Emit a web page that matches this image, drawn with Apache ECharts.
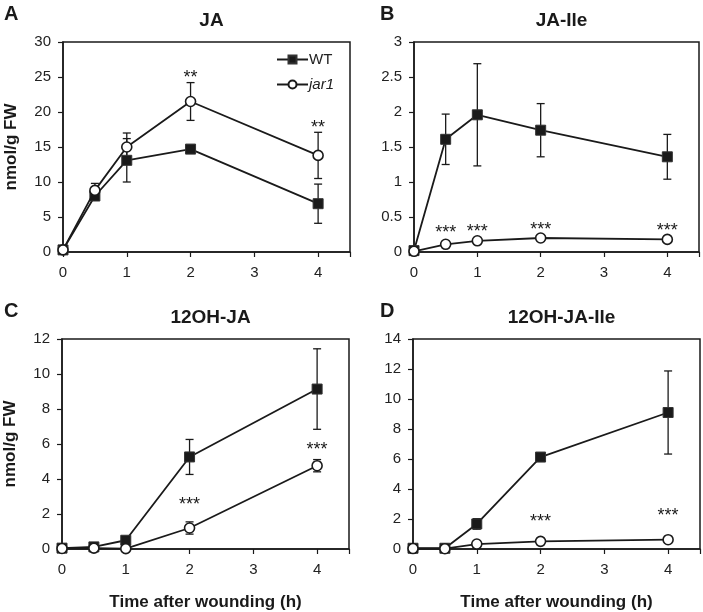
<!DOCTYPE html>
<html>
<head>
<meta charset="utf-8">
<script src="https://cdn.jsdelivr.net/npm/echarts@6/dist/echarts.min.js"></script>
<style>
  html, body { margin: 0; padding: 0; background: #fff; }
  #chart { width: 703px; height: 612px; }
</style>
</head>
<body>
<div id="chart"></div>
<script>
// sampling times (h after wounding)
const times = [0, 0.5, 1, 2, 4]
const xTicks = [0, 1, 2, 3, 4]

// A: JA
const jaWT = [0.3, 8.0, 13.1, 14.7, 6.9]
const jaWTErr = [0.2, 0.5, 3.1, 0.4, 2.8]
const jaJar1 = [0.3, 8.8, 15.0, 21.5, 13.8]
const jaJar1Err = [0.2, 1.0, 2.0, 2.7, 3.3]
const jaStars = [[2, 25.3, '**'], [4, 18.2, '**']]

// B: JA-Ile
const jaIleWT = [0.02, 1.61, 1.96, 1.74, 1.36]
const jaIleWTErr = [0.01, 0.36, 0.73, 0.38, 0.32]
const jaIleJar1 = [0.01, 0.11, 0.16, 0.20, 0.18]
const jaIleJar1Err = [0.005, 0.01, 0.01, 0.02, 0.02]
const jaIleStars = [[0.5, 0.31, '***'], [1, 0.33, '***'], [2, 0.35, '***'], [4, 0.34, '***']]

// C: 12OH-JA
const ohWT = [0.05, 0.12, 0.5, 5.26, 9.14]
const ohWTErr = [0.02, 0.1, 0.1, 1.0, 2.3]
const ohJar1 = [0.03, 0.05, 0.02, 1.2, 4.76]
const ohJar1Err = [0.02, 0.02, 0.02, 0.35, 0.35]
const ohStars = [[2, 2.7, '***'], [4, 5.8, '***']]

// D: 12OH-JA-Ile
const ohIleWT = [0.05, 0.05, 1.67, 6.13, 9.1]
const ohIleWTErr = [0.02, 0.02, 0.35, 0.2, 2.77]
const ohIleJar1 = [0.03, 0.02, 0.33, 0.51, 0.62]
const ohIleJar1Err = [0.02, 0.02, 0.05, 0.05, 0.05]
const ohIleStars = [[2, 2.0, '***'], [4, 2.4, '***']]

const panels = [
  { letter: 'A', title: 'JA', wt: jaWT, wtErr: jaWTErr, jar: jaJar1, jarErr: jaJar1Err, stars: jaStars, max: 30, interval: 5, yName: true, xName: false },
  { letter: 'B', title: 'JA-Ile', wt: jaIleWT, wtErr: jaIleWTErr, jar: jaIleJar1, jarErr: jaIleJar1Err, stars: jaIleStars, max: 3, interval: 0.5, yName: false, xName: false },
  { letter: 'C', title: '12OH-JA', wt: ohWT, wtErr: ohWTErr, jar: ohJar1, jarErr: ohJar1Err, stars: ohStars, max: 12, interval: 2, yName: true, xName: true },
  { letter: 'D', title: '12OH-JA-Ile', wt: ohIleWT, wtErr: ohIleWTErr, jar: ohIleJar1, jarErr: ohIleJar1Err, stars: ohIleStars, max: 14, interval: 2, yName: false, xName: true },
]

const grids = [
  { left: 63, top: 42, width: 287, height: 210 },
  { left: 414, top: 42, width: 285, height: 210 },
  { left: 62, top: 339, width: 287, height: 210 },
  { left: 413, top: 339, width: 287, height: 210 },
]

const ink = '#1a1a1a'
const font = 'Liberation Sans, Arial, sans-serif'

function errorBars(vals, errs) {
  return times.map((t, i) => [t, vals[i], errs[i]])
}

function renderErr(params, api) {
  const x = api.value(0)
  const m = api.value(1)
  const e = api.value(2)
  const hi = api.coord([x, m + e])
  const lo = api.coord([x, m - e])
  const w = 4
  const style = { stroke: ink, lineWidth: 1.3 }
  return {
    type: 'group',
    children: [
      { type: 'line', shape: { x1: hi[0], y1: hi[1], x2: lo[0], y2: lo[1] }, style },
      { type: 'line', shape: { x1: hi[0] - w, y1: hi[1], x2: hi[0] + w, y2: hi[1] }, style },
      { type: 'line', shape: { x1: lo[0] - w, y1: lo[1], x2: lo[0] + w, y2: lo[1] }, style },
    ],
  }
}

function renderStar(labels) {
  return (params, api) => {
    const p = api.coord([api.value(0), api.value(1)])
    // asterisk glyphs sit high in the em box, nudge down a bit
    return {
      type: 'text',
      x: p[0],
      y: p[1] + 3,
      style: {
        text: labels[params.dataIndex],
        fill: ink,
        font: '18px ' + font,
        align: 'center',
        verticalAlign: 'middle',
      },
    }
  }
}

const myChart = echarts.init(document.getElementById('chart'))

const titles = []
const xAxes = []
const yAxes = []
const series = []

panels.forEach((p, k) => {
  const g = grids[k]
  titles.push({
    text: p.title,
    left: g.left + g.width / 2,
    top: g.top - 36,
    textAlign: 'center',
    textStyle: { fontFamily: font, fontSize: 19, fontWeight: 'bold', color: ink },
  })
  titles.push({
    text: p.letter,
    left: k % 2 === 0 ? -1 : 375,
    top: g.top - 43,
    textStyle: { fontFamily: font, fontSize: 20, fontWeight: 'bold', color: ink },
  })

  xAxes.push({
    gridIndex: k,
    type: 'value',
    min: 0,
    max: 4.5,
    interval: 1,
    splitLine: { show: false },
    axisLine: { lineStyle: { color: ink, width: 1.5 } },
    axisTick: { length: 5, lineStyle: { color: ink, width: 1.2 } },
    axisLabel: {
      color: '#222', fontFamily: font, fontSize: 15, margin: 13,
      formatter: v => (xTicks.includes(v) ? String(v) : ''),
    },
    name: p.xName ? 'Time after wounding (h)' : '',
    nameLocation: 'middle',
    nameGap: 45,
    nameTextStyle: { fontFamily: font, fontSize: 17, fontWeight: 'bold', color: ink },
  })
  yAxes.push({
    gridIndex: k,
    type: 'value',
    min: 0,
    max: p.max,
    interval: p.interval,
    splitLine: { show: false },
    axisLine: { show: true, lineStyle: { color: ink, width: 1.5 } },
    axisTick: { show: true, length: 5, lineStyle: { color: ink, width: 1.2 } },
    axisLabel: { color: '#222', fontFamily: font, fontSize: 15, margin: 12 },
    name: p.yName ? 'nmol/g FW' : '',
    nameLocation: 'middle',
    nameGap: 43,
    nameTextStyle: { fontFamily: font, fontSize: 17, fontWeight: 'bold', color: ink },
  })

  series.push({
    type: 'custom',
    xAxisIndex: k, yAxisIndex: k,
    renderItem: renderErr,
    data: errorBars(p.wt, p.wtErr),
    z: 1,
    silent: true,
  })
  series.push({
    type: 'custom',
    xAxisIndex: k, yAxisIndex: k,
    renderItem: renderErr,
    data: errorBars(p.jar, p.jarErr),
    z: 1,
    silent: true,
  })
  series.push({
    name: 'WT',
    type: 'line',
    xAxisIndex: k, yAxisIndex: k,
    data: times.map((t, i) => [t, p.wt[i]]),
    symbol: 'rect',
    symbolSize: 10,
    showAllSymbol: true,
    lineStyle: { color: ink, width: 1.8 },
    itemStyle: { color: ink, borderColor: '#333', borderWidth: 1 },
    z: 3,
  })
  series.push({
    name: 'jar1',
    type: 'line',
    xAxisIndex: k, yAxisIndex: k,
    data: times.map((t, i) => [t, p.jar[i]]),
    symbol: 'circle',
    symbolSize: 10,
    showAllSymbol: true,
    lineStyle: { color: ink, width: 1.8 },
    itemStyle: { color: '#fff', borderColor: ink, borderWidth: 1.6 },
    z: 4,
  })
  series.push({
    type: 'custom',
    xAxisIndex: k, yAxisIndex: k,
    renderItem: renderStar(p.stars.map(s => s[2])),
    data: p.stars.map(s => [s[0], s[1]]),
    z: 5,
    silent: true,
  })
})

let option = {
  backgroundColor: '#fff',
  animation: false,
  title: titles,
  grid: grids.map(g => ({ ...g, show: true, borderColor: ink, borderWidth: 1.5, backgroundColor: 'transparent' })),
  xAxis: xAxes,
  yAxis: yAxes,
  legend: {
    orient: 'vertical',
    left: 271,
    top: 47,
    itemWidth: 31,
    itemHeight: 10,
    itemGap: 10,
    data: [
      { name: 'WT' },
      { name: 'jar1', textStyle: { fontStyle: 'italic' } },
    ],
    textStyle: { fontFamily: font, fontSize: 15, color: '#222', padding: [0, 0, 0, -4] },
  },
  series: series,
}

option && myChart.setOption(option)
</script>
</body>
</html>
